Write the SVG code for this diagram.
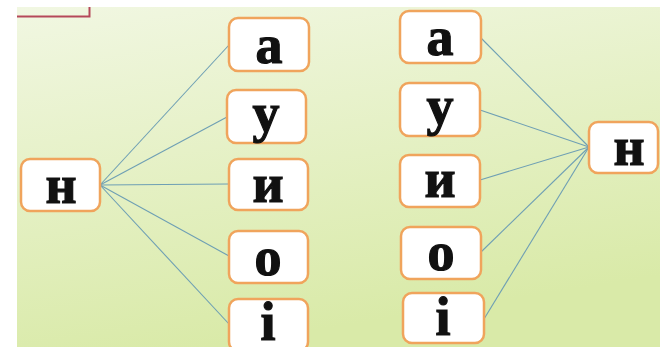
<svg xmlns="http://www.w3.org/2000/svg" width="660" height="347" viewBox="0 0 660 347">
<defs>
<linearGradient id="bg" x1="0" y1="0" x2="0.3" y2="1">
<stop offset="0" stop-color="#f1f7e2"/>
<stop offset="1" stop-color="#d9eaa8"/>
</linearGradient>
<style>
.box{fill:#ffffff;stroke:#f0a45c;stroke-width:2.5}
.t{font-family:"Liberation Serif","Times New Roman",serif;font-weight:bold;font-size:54px;fill:#111;stroke:#111;stroke-width:1.2;text-anchor:middle}
.c{stroke:#6e9fb4;stroke-width:1.1;fill:none}
</style>
</defs>
<rect x="0" y="0" width="660" height="347" fill="#ffffff"/>
<rect x="17" y="7" width="643" height="340" fill="url(#bg)"/>
<path d="M17 16.5 H89.5 V7" fill="none" stroke="#b5485a" stroke-width="2"/>
<g id="connectors">
<line class="c" x1="100" y1="185" x2="229" y2="45"/>
<line class="c" x1="100" y1="185" x2="227" y2="117"/>
<line class="c" x1="100" y1="185" x2="229" y2="184"/>
<line class="c" x1="100" y1="185" x2="229" y2="256"/>
<line class="c" x1="100" y1="185" x2="229" y2="324"/>
<line class="c" x1="589" y1="147" x2="481" y2="38"/>
<line class="c" x1="589" y1="147" x2="480" y2="110"/>
<line class="c" x1="589" y1="147" x2="480" y2="180"/>
<line class="c" x1="589" y1="147" x2="481" y2="252"/>
<line class="c" x1="589" y1="147" x2="484" y2="319"/>
</g>
<g id="left-n"><rect class="box" x="21" y="159" width="79" height="52" rx="9"/><text class="t" x="61" y="203">н</text></g>
<g id="left-a"><rect class="box" x="229" y="18" width="80" height="53" rx="9"/><text class="t" x="269" y="63">а</text></g>
<g id="left-u"><rect class="box" x="227" y="90" width="79" height="53" rx="9"/><text class="t" x="266" y="131">у</text></g>
<g id="left-i"><rect class="box" x="229" y="159" width="79" height="51" rx="9"/><text class="t" x="268" y="202">и</text></g>
<g id="left-o"><rect class="box" x="229" y="231" width="79" height="52" rx="9"/><text class="t" x="268" y="275">о</text></g>
<g id="left-ii"><rect class="box" x="229" y="299" width="79" height="52" rx="9"/><text class="t" x="268" y="340">і</text></g>
<g id="right-a"><rect class="box" x="400" y="11" width="81" height="52" rx="9"/><text class="t" x="440" y="55">а</text></g>
<g id="right-u"><rect class="box" x="400" y="83" width="80" height="53" rx="9"/><text class="t" x="440" y="124">у</text></g>
<g id="right-i"><rect class="box" x="400" y="155" width="80" height="52" rx="9"/><text class="t" x="440" y="197">и</text></g>
<g id="right-o"><rect class="box" x="401" y="227" width="80" height="52" rx="9"/><text class="t" x="441" y="270">о</text></g>
<g id="right-ii"><rect class="box" x="403" y="293" width="81" height="50" rx="9"/><text class="t" x="443" y="335">і</text></g>
<g id="right-n"><rect class="box" x="589" y="122" width="69" height="51" rx="9"/><text class="t" x="629" y="165">н</text></g>
</svg>
